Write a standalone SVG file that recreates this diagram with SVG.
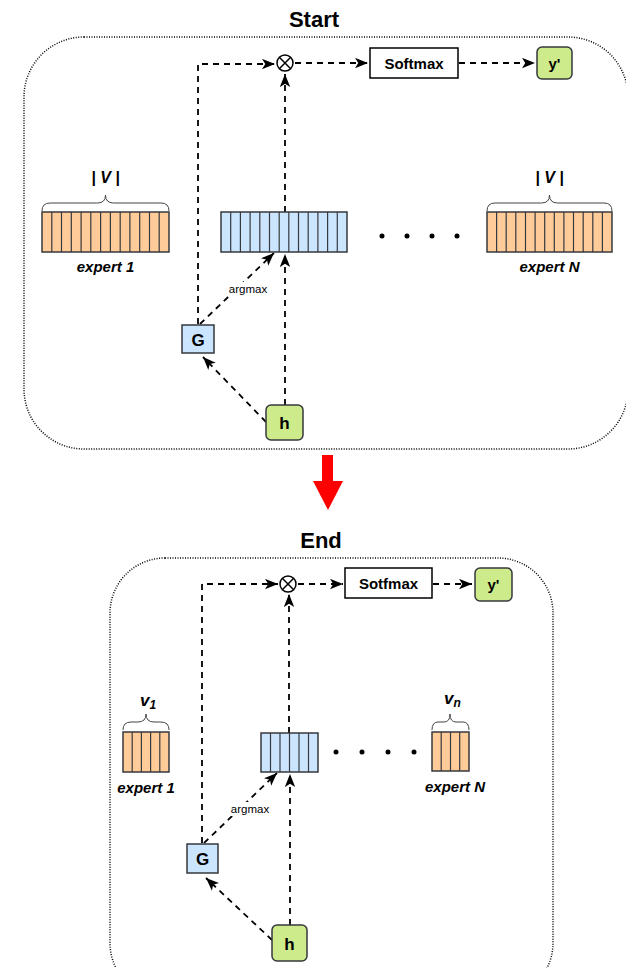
<svg xmlns="http://www.w3.org/2000/svg" width="626" height="968" viewBox="0 0 626 968">
<style>
text{font-family:"Liberation Sans",Arial,sans-serif;fill:#000}
.title{font-size:22px;font-weight:bold;text-anchor:middle}
.lbl{font-size:15px;font-weight:bold;text-anchor:middle}
.node{font-size:17px;font-weight:bold;text-anchor:middle}
.ital{font-size:15px;font-weight:bold;font-style:italic;text-anchor:middle}
.small{font-size:11.5px;text-anchor:middle}
.lblbg{fill:#fff;stroke:none}
.cont{fill:none;stroke:#000;stroke-width:1.5;stroke-dasharray:1 1.5}
.edge{fill:none;stroke:#000;stroke-width:1.8;stroke-dasharray:6 5}
.green{fill:#cdeb8b;stroke:#36393d;stroke-width:1.5}
.blue{fill:#cce5ff;stroke:#36393d;stroke-width:1.5}
.orange{fill:#ffcc99;stroke:#36393d;stroke-width:1.5}
.cell{stroke:#36393d;stroke-width:1.2}
.brace{fill:none;stroke:#444;stroke-width:1}
.box{fill:#fff;stroke:#000;stroke-width:1.5}
</style>
<defs>
<marker id="arr" viewBox="0 0 10 8" refX="10" refY="4" markerWidth="13" markerHeight="11" orient="auto" markerUnits="userSpaceOnUse">
<path d="M0,0 L10,4 L0,8 L2.5,4 Z" fill="#000"/>
</marker>
</defs>

<!-- Start section -->
<text class="title" x="314" y="27">Start</text>
<rect id="start-container" class="cont" x="24" y="37" width="604" height="412" rx="60" ry="60"/>

<g id="connectors-start">
<path class="edge" d="M198,324 V64 H275" marker-end="url(#arr)"/>
<path class="edge" d="M295,63 H368" marker-end="url(#arr)"/>
<path class="edge" d="M459,63 H535" marker-end="url(#arr)"/>
<path class="edge" d="M285,212 V74" marker-end="url(#arr)"/>
<path class="edge" d="M200,324 L274,253" marker-end="url(#arr)"/>
<path class="edge" d="M266,422 L203,357" marker-end="url(#arr)"/>
<path class="edge" d="M285,405 V254" marker-end="url(#arr)"/>
<rect class="lblbg" x="226" y="282" width="44" height="14"/>
<text class="small" x="248" y="293">argmax</text>
</g>

<g id="otimes-start">
<circle cx="285" cy="63" r="8" fill="#fff" stroke="#000" stroke-width="1.5"/>
<path d="M279.3,57.3 L290.7,68.7 M290.7,57.3 L279.3,68.7" stroke="#000" stroke-width="1.5"/>
</g>
<g id="softmax-start">
<rect class="box" x="370" y="48" width="88" height="30"/>
<text class="lbl" x="414" y="68.5">Softmax</text>
</g>
<g id="y-start">
<rect class="green" x="537" y="47" width="35" height="32" rx="5"/>
<text class="lbl" x="554.5" y="68.5">y'</text>
</g>

<g id="array-start">
<rect class="blue" x="221" y="212" width="126" height="40"/>
<path class="cell" d="M230.7,212V252M240.4,212V252M250.1,212V252M259.8,212V252M269.5,212V252M279.2,212V252M288.8,212V252M298.5,212V252M308.2,212V252M317.9,212V252M327.6,212V252M337.3,212V252"/>
</g>

<g id="expert1-start">
<path class="brace" d="M42,211 Q42,203 50,203 L97.5,203 Q105.5,203 105.5,195 Q105.5,203 113.5,203 L161,203 Q169,203 169,211"/>
<text class="ital" x="105.5" y="183" style="font-size:16px">| V |</text>
<rect class="orange" x="42" y="212" width="127" height="40"/>
<path class="cell" d="M51.8,212V252M61.5,212V252M71.3,212V252M81.1,212V252M90.8,212V252M100.6,212V252M110.4,212V252M120.2,212V252M129.9,212V252M139.7,212V252M149.5,212V252M159.2,212V252"/>
<text class="ital" x="105.5" y="272">expert 1</text>
</g>

<g id="dots-start">
<circle cx="382" cy="236" r="2.5"/>
<circle cx="407" cy="236" r="2.5"/>
<circle cx="432" cy="236" r="2.5"/>
<circle cx="457" cy="236" r="2.5"/>
</g>

<g id="expertN-start">
<path class="brace" d="M487,211 Q487,203 495,203 L541.5,203 Q549.5,203 549.5,195 Q549.5,203 557.5,203 L604,203 Q612,203 612,211"/>
<text class="ital" x="549.5" y="183" style="font-size:16px">| V |</text>
<rect class="orange" x="487" y="212" width="125" height="40"/>
<path class="cell" d="M496.6,212V252M506.2,212V252M515.8,212V252M525.5,212V252M535.1,212V252M544.7,212V252M554.3,212V252M563.9,212V252M573.5,212V252M583.2,212V252M592.8,212V252M602.4,212V252"/>
<text class="ital" x="549.5" y="272">expert N</text>
</g>

<g id="G-start">
<rect class="blue" x="182" y="325" width="32" height="28"/>
<text class="node" x="198" y="345.5">G</text>
</g>
<g id="h-start">
<rect class="green" x="266" y="405" width="37" height="35" rx="5"/>
<text class="node" x="284.5" y="429">h</text>
</g>

<!-- red transition arrow -->
<g id="transition">
<polygon points="322,455 333,455 333,481 343,481 328,510 313,481 322,481" fill="#ff0000"/>
</g>

<!-- End section -->
<text class="title" x="321" y="548">End</text>
<rect id="end-container" class="cont" x="110" y="558" width="443" height="440" rx="55" ry="55"/>

<g id="connectors-end">
<path class="edge" d="M202,843 V584 H278" marker-end="url(#arr)"/>
<path class="edge" d="M298,584 H343" marker-end="url(#arr)"/>
<path class="edge" d="M433,584 H472" marker-end="url(#arr)"/>
<path class="edge" d="M289,733 V594" marker-end="url(#arr)"/>
<path class="edge" d="M204,843 L277,773" marker-end="url(#arr)"/>
<path class="edge" d="M272,940 L206,878" marker-end="url(#arr)"/>
<path class="edge" d="M290,925 V774" marker-end="url(#arr)"/>
<rect class="lblbg" x="228" y="802" width="44" height="14"/>
<text class="small" x="250" y="813">argmax</text>
</g>

<g id="otimes-end">
<circle cx="288" cy="584" r="8" fill="#fff" stroke="#000" stroke-width="1.5"/>
<path d="M282.3,578.3 L293.7,589.7 M293.7,578.3 L282.3,589.7" stroke="#000" stroke-width="1.5"/>
</g>
<g id="sotfmax-end">
<rect class="box" x="345" y="568" width="87" height="30"/>
<text class="lbl" x="388.5" y="588.5">Sotfmax</text>
</g>
<g id="y-end">
<rect class="green" x="475" y="568" width="37" height="33" rx="5"/>
<text class="lbl" x="493.5" y="589.5">y'</text>
</g>

<g id="array-end">
<rect class="blue" x="261" y="733" width="57" height="39"/>
<path class="cell" d="M270.5,733V772M280,733V772M289.5,733V772M299,733V772M308.5,733V772"/>
</g>

<g id="expert1-end">
<path class="brace" d="M123,730 Q123,722 131,722 L138,722 Q146,722 146,714 Q146,722 154,722 L161,722 Q169,722 169,730"/>
<text x="140" y="706" style="font-size:17px;font-weight:bold;font-style:italic">v<tspan dy="3" style="font-size:12px">1</tspan></text>
<rect class="orange" x="123" y="732" width="46" height="40"/>
<path class="cell" d="M132.2,732V772M141.4,732V772M150.6,732V772M159.8,732V772"/>
<text class="ital" x="146" y="793">expert 1</text>
</g>

<g id="dots-end">
<circle cx="336" cy="752" r="2.5"/>
<circle cx="362" cy="752" r="2.5"/>
<circle cx="388" cy="752" r="2.5"/>
<circle cx="414" cy="752" r="2.5"/>
</g>

<g id="expertN-end">
<path class="brace" d="M432,730 Q432,722 438,722 L444,722 Q450,722 450,714 Q450,722 456,722 L463,722 Q469,722 469,730"/>
<text x="444" y="704" style="font-size:17px;font-weight:bold;font-style:italic">v<tspan dy="3" style="font-size:12px">n</tspan></text>
<rect class="orange" x="432" y="732" width="37" height="39"/>
<path class="cell" d="M441.2,732V771M450.5,732V771M459.7,732V771"/>
<text class="ital" x="455" y="792">expert N</text>
</g>

<g id="G-end">
<rect class="blue" x="187" y="844" width="31" height="29"/>
<text class="node" x="202.5" y="864.5">G</text>
</g>
<g id="h-end">
<rect class="green" x="272" y="925" width="35" height="36" rx="5"/>
<text class="node" x="289.5" y="949.5">h</text>
</g>
</svg>
